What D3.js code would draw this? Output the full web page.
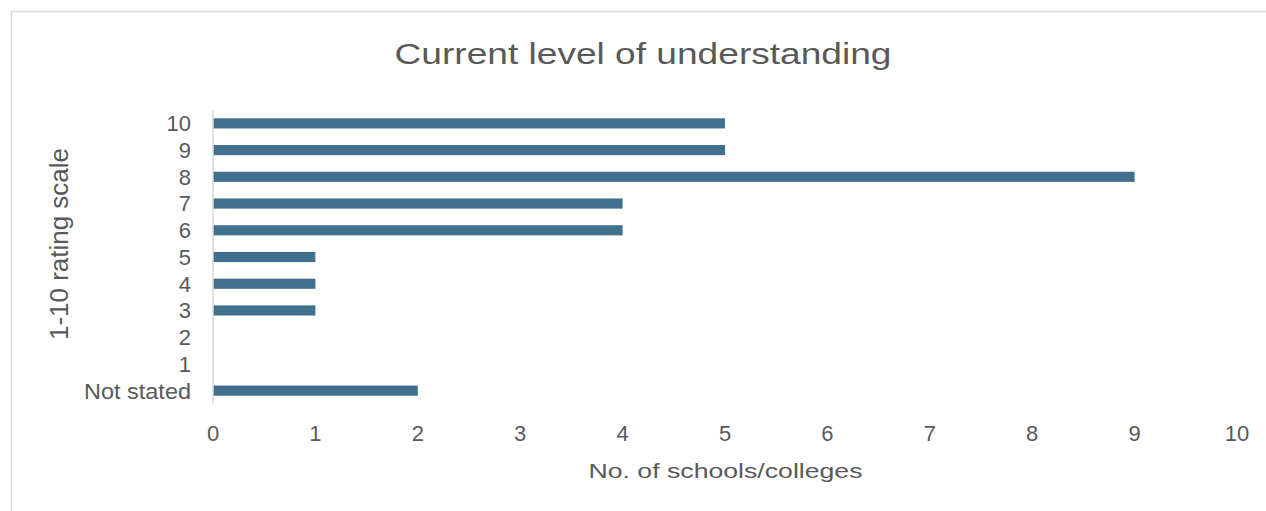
<!DOCTYPE html>
<html>
<head>
<meta charset="utf-8">
<script src="https://cdn.jsdelivr.net/npm/d3@7"></script>
<style>
  body { margin: 0; background: #fff; }
  svg { display: block; font-family: "Liberation Sans", Arial, sans-serif; }
</style>
</head>
<body>
<script>
// Rating categories, top to bottom
const categories = ["10", "9", "8", "7", "6", "5", "4", "3", "2", "1", "Not stated"];
const counts = [5, 5, 9, 4, 4, 1, 1, 1, 0, 0, 2];
const xTicks = [0, 1, 2, 3, 4, 5, 6, 7, 8, 9, 10];

const width = 1266, height = 511;
const margin = { top: 110, right: 29, bottom: 107, left: 213 };

const svg = d3.select("body")
    .append("svg")
    .attr("width", width)
    .attr("height", height);

// chart frame (cut off at right / bottom like the source)
svg.append("rect")
    .attr("x", 11.5).attr("y", 11.5)
    .attr("width", width + 10).attr("height", height + 10)
    .attr("fill", "none")
    .attr("stroke", "#d9d9d9")
    .attr("stroke-width", 1.5);

const x = d3.scaleLinear()
    .domain([0, 10])
    .range([margin.left, width - margin.right]);

const y = d3.scaleBand()
    .domain(categories)
    .range([margin.top, height - margin.bottom])
    .paddingInner(0.62)
    .paddingOuter(0.31);

// bars
svg.append("g")
    .selectAll("rect")
    .data(categories.map((c, i) => ({ cat: c, val: counts[i] })))
    .join("rect")
    .attr("x", x(0))
    .attr("y", d => y(d.cat))
    .attr("width", d => x(d.val) - x(0))
    .attr("height", y.bandwidth())
    .attr("fill", "#41708f");

// y axis line
svg.append("line")
    .attr("x1", x(0)).attr("x2", x(0))
    .attr("y1", margin.top).attr("y2", height - margin.bottom)
    .attr("stroke", "#d9d9d9")
    .attr("stroke-width", 1.5);

// y tick labels
svg.append("g")
    .selectAll("text")
    .data(categories)
    .join("text")
    .attr("x", 191)
    .attr("y", d => y(d) + y.bandwidth() / 2)
    .attr("dy", "0.36em")
    .attr("text-anchor", "end")
    .attr("font-size", "22px")
    .attr("fill", "#595959")
    .attr("textLength", d => d === "Not stated" ? 107 : null)
    .attr("lengthAdjust", "spacingAndGlyphs")
    .text(d => d);

// x tick labels
svg.append("g")
    .selectAll("text")
    .data(xTicks)
    .join("text")
    .attr("x", d => x(d))
    .attr("y", 441)
    .attr("text-anchor", "middle")
    .attr("font-size", "22px")
    .attr("fill", "#595959")
    .text(d => d);

// axis titles
svg.append("text")
    .attr("x", (x(0) + x(10)) / 2 + 0.5)
    .attr("y", 478)
    .attr("text-anchor", "middle")
    .attr("font-size", "21px")
    .attr("textLength", 274)
    .attr("lengthAdjust", "spacingAndGlyphs")
    .attr("fill", "#595959")
    .text("No. of schools/colleges");

svg.append("text")
    .attr("transform", "translate(68,244) rotate(-90)")
    .attr("text-anchor", "middle")
    .attr("font-size", "25px")
    .attr("textLength", 192)
    .attr("lengthAdjust", "spacingAndGlyphs")
    .attr("fill", "#595959")
    .text("1-10 rating scale");

// chart title
svg.append("text")
    .attr("x", 643)
    .attr("y", 64)
    .attr("text-anchor", "middle")
    .attr("font-size", "29px")
    .attr("textLength", 497)
    .attr("lengthAdjust", "spacingAndGlyphs")
    .attr("fill", "#595959")
    .text("Current level of understanding");
</script>
</body>
</html>
